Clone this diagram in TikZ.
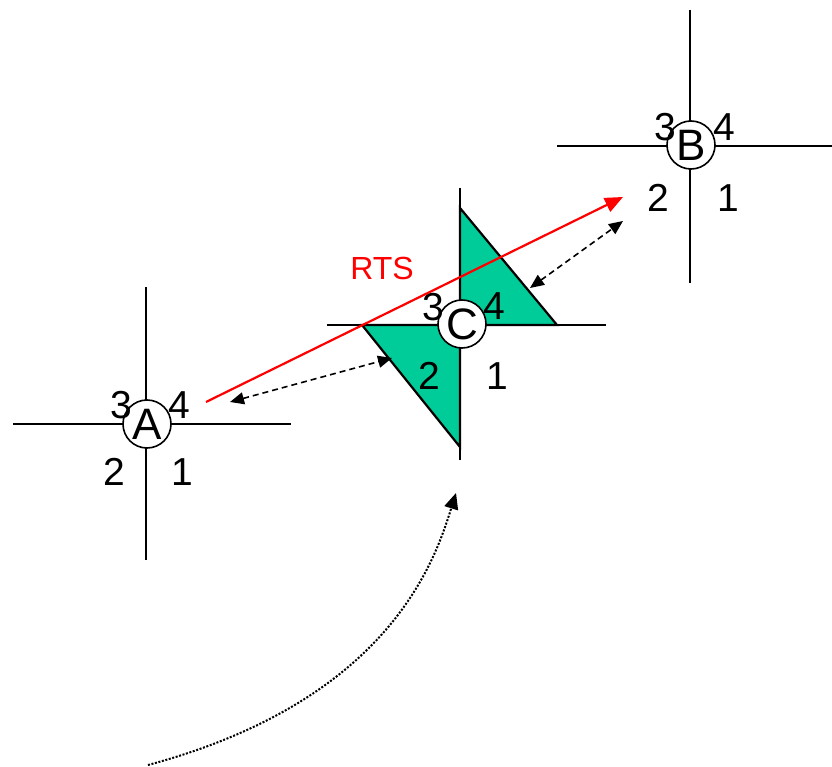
\documentclass[tikz,border=0pt]{standalone}
\usepackage{fontspec}
\setmainfont{Liberation Sans}
\usetikzlibrary{arrows.meta}
\definecolor{tgreen}{RGB}{0,204,153}
\begin{document}
\begin{tikzpicture}[x=1pt,y=-1pt,
  crossline/.style={line width=2.2pt},
  station/.style={circle,draw,fill=white,line width=1.6pt,minimum size=48pt,inner sep=0pt,font=\fontsize{44}{44}\selectfont},
  num/.style={inner sep=0pt,font=\fontsize{39}{39}\selectfont},
  zone/.style={fill=tgreen,draw=black,line width=2.2pt,line join=miter},
  rts/.style={red,line width=2.2pt,-{Triangle[length=18pt,width=15pt]}},
  ack/.style={line width=1.6pt,dash pattern=on 6pt off 4pt,{Triangle[length=14pt,width=12pt]}-{Triangle[length=14pt,width=12pt]}},
  move/.style={line width=2pt,dash pattern=on 2pt off 1.6pt,-{Triangle[length=16pt,width=14pt]}}]
\useasboundingbox (0,0) rectangle (832,767);
% green zones of C
\coordinate (c0) at (460,325);
\coordinate (ct) at (460,208);
\coordinate (cr) at (557,325);
\coordinate (cl) at (362,325);
\coordinate (cb) at (460,447);
\draw[zone] (ct) -- (c0) -- (cr) -- cycle;
\draw[zone] (cl) -- (c0) -- (cb) -- cycle;
% crosses
\coordinate (aw) at (13,424); \coordinate (ae) at (291,424);
\coordinate (an) at (146,287); \coordinate (as) at (146,560);
\coordinate (bw) at (557,146); \coordinate (be) at (832,146);
\coordinate (bn) at (690,10); \coordinate (bs) at (690,283);
\coordinate (cw) at (327,325); \coordinate (ce) at (606,325);
\coordinate (cn) at (460,188); \coordinate (cs) at (460,460);
\draw[crossline] (aw) -- (ae) (an) -- (as);
\draw[crossline] (bw) -- (be) (bn) -- (bs);
\draw[crossline] (cw) -- (ce) (cn) -- (cs);
% stations
\node[station] (A) at (147,424) {A};
\node[station] (B) at (691,145) {B};
\node[station] (C) at (462,324) {C};
% quadrant numbers
\node[num] (a3) at (121,405) {3};
\node[num] (a4) at (179,405) {4};
\node[num] (a2) at (114,472) {2};
\node[num] (a1) at (182,472) {1};
\node[num] (b3) at (665,127) {3};
\node[num] (b4) at (724,127) {4};
\node[num] (b2) at (658,198) {2};
\node[num] (b1) at (728,198) {1};
\node[num] (c3) at (433,307) {3};
\node[num] (c4) at (494,306) {4};
\node[num] (c2) at (429,376) {2};
\node[num] (c1) at (497,376) {1};
% RTS
\coordinate (rs) at (206,402);
\coordinate (re) at (623,197);
\draw[rts] (rs) -- (re);
\node[red,inner sep=0pt,font=\fontsize{32}{32}\selectfont] (rtsl) at (382,268) {RTS};
% dashed double arrows
\coordinate (d1a) at (230,402); \coordinate (d1b) at (392,358);
\coordinate (d2a) at (530,288); \coordinate (d2b) at (623,221);
\draw[ack] (d1a) -- (d1b);
\draw[ack] (d2a) -- (d2b);
% dotted movement
\coordinate (ms) at (148,765);
\coordinate (me) at (456,493);
\draw[move] (ms) .. controls (390,700) and (435,560) .. (me);
\end{tikzpicture}
\end{document}
